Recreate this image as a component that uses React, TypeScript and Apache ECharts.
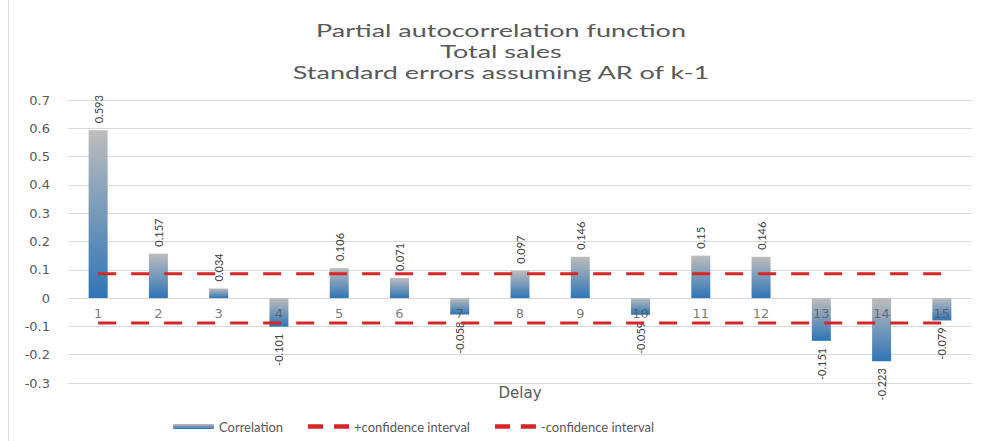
import React, { useEffect, useRef } from "react";
import * as echarts from "echarts";

const lags = ["1", "2", "3", "4", "5", "6", "7", "8", "9", "10", "11", "12", "13", "14", "15"];
const correlation = [0.593, 0.157, 0.034, -0.101, 0.106, 0.071, -0.058, 0.097, 0.146, -0.059, 0.15, 0.146, -0.151, -0.223, -0.079];
const plusCI = [0.086, 0.086, 0.086, 0.086, 0.086, 0.086, 0.086, 0.086, 0.086, 0.086, 0.086, 0.086, 0.086, 0.086, 0.086];
const minusCI = [-0.088, -0.088, -0.088, -0.088, -0.088, -0.088, -0.088, -0.088, -0.088, -0.088, -0.088, -0.088, -0.088, -0.088, -0.088];
const zeroLine = [0, 0, 0, 0, 0, 0, 0, 0, 0, 0, 0, 0, 0, 0, 0];
const titleLines = ["Partial autocorrelation function", "Total sales", "Standard errors assuming AR of k-1"];

const FONT = "Lato, 'Open Sans', sans-serif";
const WIDE = "'DejaVu Sans', sans-serif";
const GRAY = "#595959";
const RED = "#d62728";
const DASH_ICON = "path://M0 0H14V4H0Z M24 0H38V4H24Z";

export default function App() {
  const ref = useRef<HTMLDivElement>(null);
  useEffect(() => {
    if (!ref.current) return;
    const chart = echarts.init(ref.current, null, { renderer: "svg" });
    const barGradient = new echarts.graphic.LinearGradient(0, 0, 0, 1, [
      { offset: 0, color: "#bdbdbd" },
      { offset: 1, color: "#2e75b6" },
    ]);
    chart.setOption({
      animation: false,
      backgroundColor: "#ffffff",
      textStyle: { fontFamily: FONT },
      legend: {
        left: 168,
        top: 415,
        itemWidth: 41,
        itemHeight: 5,
        itemGap: 25,
        textStyle: { fontFamily: FONT, fontSize: 13, color: GRAY },
        data: [
          { name: "Correlation" },
          { name: "+confidence interval", icon: DASH_ICON, itemStyle: { color: RED } },
          { name: "-confidence interval", icon: DASH_ICON, itemStyle: { color: RED } },
        ],
      },
      grid: { left: 68, right: 17, top: 100, bottom: 58, containLabel: false, outerBoundsMode: "none" },
      xAxis: {
        type: "category",
        data: lags,
        name: "Delay",
        nameLocation: "middle",
        nameGap: 2,
        nameTextStyle: { fontFamily: WIDE, fontSize: 15, color: GRAY },
        axisLine: { show: false },
        axisTick: { show: false },
        axisLabel: { show: false },
        splitLine: { show: false },
      },
      yAxis: {
        type: "value",
        min: -0.3,
        max: 0.7,
        interval: 0.1,
        axisLine: { show: false },
        axisTick: { show: false },
        axisLabel: { color: GRAY, fontSize: 13, margin: 18, fontFamily: WIDE },
        splitLine: { lineStyle: { color: "#d9d9d9", width: 1 } },
      },
      graphic: [
        { type: "line", shape: { x1: 8.5, y1: 0, x2: 8.5, y2: 441 }, style: { stroke: "#e0e0e0", lineWidth: 1 } },
        ...titleLines.map((t, i) => ({
          type: "text",
          x: 501,
          y: 30 + i * 21,
          scaleX: 1.5,
          style: {
            text: t,
            fontSize: 18,
            fontFamily: FONT,
            fill: GRAY,
            align: "center",
            verticalAlign: "middle",
          },
        })),
      ],
      series: [
        {
          name: "Correlation",
          type: "bar",
          barWidth: 19,
          itemStyle: { color: barGradient },
          data: correlation.map((v) => ({
            value: v,
            label:
              v < 0
                ? { position: "bottom", align: "right" }
                : { position: "top", align: "left" },
          })),
          label: {
            show: true,
            rotate: 90,
            verticalAlign: "middle",
            distance: 7,
            fontSize: 11,
            color: "#404040",
            fontFamily: FONT,
          },
        },
        {
          name: "+confidence interval",
          type: "line",
          data: plusCI,
          symbol: "none",
          z: 5,
          lineStyle: { color: RED, width: 3, type: [18, 15] },
          itemStyle: { color: RED },
        },
        {
          name: "-confidence interval",
          type: "line",
          data: minusCI,
          symbol: "none",
          z: 5,
          lineStyle: { color: RED, width: 3, type: [18, 15] },
          itemStyle: { color: RED },
        },
        {
          name: "categoryLabels",
          type: "scatter",
          data: zeroLine,
          symbolSize: 0,
          z: 10,
          silent: true,
          label: {
            show: true,
            position: "bottom",
            distance: 9,
            formatter: "{b}",
            fontSize: 13,
            fontFamily: WIDE,
            color: GRAY,
          },
          emphasis: { disabled: true },
        },
      ],
    });
    return () => chart.dispose();
  }, []);
  return <div ref={ref} style={{ position: "fixed", left: 0, top: 0, width: 989, height: 441 }} />;
}
